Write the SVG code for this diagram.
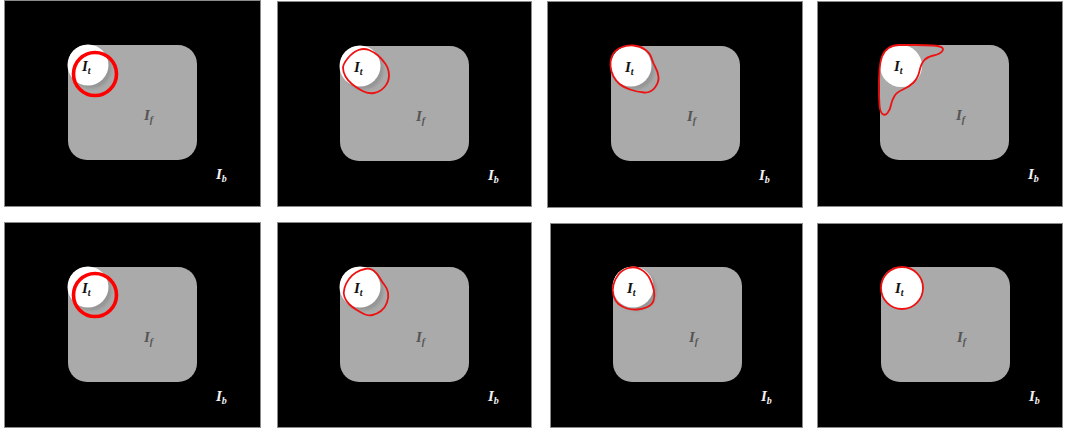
<svg xmlns="http://www.w3.org/2000/svg" width="1066" height="432" viewBox="0 0 1066 432">
  <style>
    .bg { fill: #000; stroke: #8a8a8a; stroke-width: 1; }
    .fg { fill: #aaaaaa; }
    .shadow { fill: #959595; filter: url(#soft); }
    .disc { fill: #ffffff; }
    .thick { fill: none; stroke: #ff0000; stroke-width: 3.6; }
    .thin { fill: none; stroke: #ee1111; stroke-width: 1.8; stroke-linejoin: round; }
    .lbl { font-family: "Liberation Serif", "DejaVu Serif", serif; font-style: italic; font-weight: bold; font-size: 15px; }
    .sub { font-size: 10px; }
    .lt { fill: #111; }
    .lf { fill: #555; }
    .lb { fill: #f2f2f2; }
  </style>
  <defs>
    <filter id="soft" x="-30%" y="-30%" width="160%" height="160%">
      <feGaussianBlur stdDeviation="1.5"/>
    </filter>
    <!-- one frame of the scene in local coordinates: foreground box, target disc and labels -->
    <g id="scene">
      <rect class="fg" x="0" y="0" width="129" height="115" rx="19"/>
      <circle class="shadow" cx="23.5" cy="23.5" r="20"/>
      <circle class="disc" cx="20" cy="20" r="20.5"/>
      <text class="lbl lt" x="14" y="26">I<tspan class="sub" dy="3">t</tspan></text>
      <text class="lbl lf" x="76" y="75">I<tspan class="sub" dy="3">f</tspan></text>
      <text class="lbl lb" x="148" y="134">I<tspan class="sub" dy="3">b</tspan></text>
    </g>
    <g id="scene-flat">
      <rect class="fg" x="0" y="0" width="129" height="115" rx="19"/>
      <circle class="disc" cx="21" cy="21" r="21"/>
      <text class="lbl lt" x="14" y="26">I<tspan class="sub" dy="3">t</tspan></text>
      <text class="lbl lf" x="76" y="75">I<tspan class="sub" dy="3">f</tspan></text>
      <text class="lbl lb" x="148" y="134">I<tspan class="sub" dy="3">b</tspan></text>
    </g>
  </defs>

  <!-- top row -->
  <g id="panel-1">
    <rect class="bg" x="4.5" y="0.5" width="256" height="206"/>
    <use href="#scene" x="68" y="45"/>
    <circle class="thick" cx="95" cy="74" r="21.5"/>
  </g>
  <g id="panel-2">
    <rect class="bg" x="277.5" y="1.5" width="254" height="205"/>
    <use href="#scene" x="340" y="46"/>
    <path class="thin" d="M348,58 Q353,52 358.5,50 Q364,48 369,50 Q374,52 378,55.5 Q382,59 385.5,64 Q389,69 389,75.5 Q389,82 384.5,87 Q380,92 374,93 Q368,94 362.5,91 Q357,88 352.5,84.5 Q348,81 345.5,76.5 Q343,72 343,68 Q343,64 348,58 Z"/>
  </g>
  <g id="panel-3">
    <rect class="bg" x="547.5" y="1.5" width="255" height="206"/>
    <use href="#scene" x="611" y="46"/>
    <path class="thin" d="M612.5,55 Q615,50 621,47.5 Q627,45 633.5,45.5 Q640,46 645,49.5 Q650,53 651.5,58 Q653,63 655.5,67.5 Q658,72 658.5,77 Q659,82 655,87.5 Q651,93 644,92.5 Q637,92 630,89.5 Q623,87 619.5,84 Q616,81 613.5,76.5 Q611,72 610.5,66 Q610,60 612.5,55 Z"/>
  </g>
  <g id="panel-4">
    <rect class="bg" x="817.5" y="1.5" width="245" height="205"/>
    <use href="#scene-flat" x="880" y="45"/>
    <path class="thin" d="M882,56.5 Q884,51 888.5,48 Q893,45 899,45 Q905,45 915,45 Q925,45 932.5,45.5 Q940,46 942,47.5 Q944,49 942,51.5 Q940,54 933.5,55.5 Q927,57 924,60.5 Q921,64 919.5,71 Q918,78 913.5,82.5 Q909,87 903,89.5 Q897,92 894.5,96 Q892,100 891,105 Q890,110 887.5,113 Q885,116 882.5,114 Q880,112 879.5,105 Q879,98 879,88 Q879,78 879.5,70 Q880,62 882,56.5 Z"/>
  </g>

  <!-- bottom row -->
  <g id="panel-5">
    <rect class="bg" x="4.5" y="222.5" width="256" height="205"/>
    <use href="#scene" x="68" y="267"/>
    <circle class="thick" cx="95" cy="295" r="21.5"/>
  </g>
  <g id="panel-6">
    <rect class="bg" x="277.5" y="222.5" width="254" height="205"/>
    <use href="#scene" x="340" y="267"/>
    <path class="thin" d="M344.5,288 Q346,283 349,279 Q352,275 356,272.5 Q360,270 365,269 Q370,268 373.5,270.5 Q377,273 379.5,277.5 Q382,282 384.5,285 Q387,288 388,292.5 Q389,297 387,302.5 Q385,308 381,311 Q377,314 372.5,315 Q368,316 364,314 Q360,312 356,309.5 Q352,307 349,304 Q346,301 344.5,297 Q343,293 344.5,288 Z"/>
  </g>
  <g id="panel-7">
    <rect class="bg" x="550.5" y="223.5" width="252" height="204"/>
    <use href="#scene" x="613" y="267"/>
    <path class="thin" d="M613.5,284.5 Q615,279 618.5,274.5 Q622,270 628.5,268 Q635,266 641,269.5 Q647,273 650,279 Q653,285 654,291 Q655,297 653.5,301 Q652,305 647.5,307 Q643,309 637.5,309.5 Q632,310 627,308.5 Q622,307 618.5,304 Q615,301 613.5,295.5 Q612,290 613.5,284.5 Z"/>
  </g>
  <g id="panel-8">
    <rect class="bg" x="817.5" y="223.5" width="245" height="204"/>
    <use href="#scene-flat" x="881" y="267"/>
    <circle class="thin" cx="902" cy="288" r="21"/>
  </g>
</svg>
